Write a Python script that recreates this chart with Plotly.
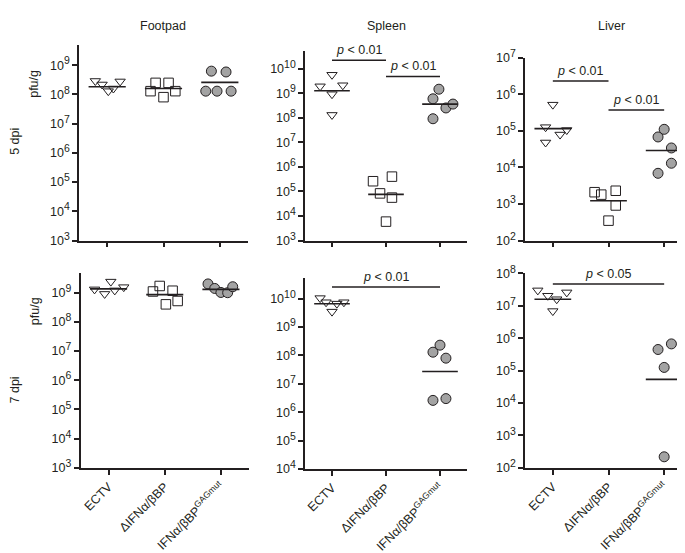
import numpy as np
import plotly.graph_objects as go

# ---------------- data (pfu/g) ----------------
categories = ["ECTV", "ΔIFNα/βBP", "IFNα/βBP<sup>GAGmut</sup>"]
rows = ["5 dpi", "7 dpi"]
organs = ["Footpad", "Spleen", "Liver"]

# 5 dpi
footpad5_ectv = [2.9e8, 2.2e8, 1.3e8, 1.6e8, 2.8e8]
footpad5_dbp = [1.3e8, 2.5e8, 8.1e7, 2.5e8, 1.3e8]
footpad5_gag = [1.3e8, 6.3e8, 1.3e8, 5.9e8, 1.3e8]
footpad5_med = [1.85e8, 1.6e8, 2.6e8]

spleen5_ectv = [1.9e9, 5.6e9, 9.1e8, 1.3e8, 2.1e9]
spleen5_dbp = [2.6e5, 8.3e4, 5.9e3, 4.0e5, 5.6e4]
spleen5_gag = [5.9e8, 9.1e7, 1.45e9, 2.5e8, 3.6e8]
spleen5_med = [1.25e9, 7.6e4, 3.6e8]

liver5_ectv = [1.26e5, 4.8e4, 5.2e5, 7.9e4, 1.05e5]
liver5_dbp = [2.1e3, 1.8e3, 3.5e2, 2.3e3, 9.1e2]
liver5_gag = [6.8e4, 6.9e3, 1.1e5, 3.4e4, 1.3e4]
liver5_med = [1.15e5, 1.23e3, 2.9e4]

# 7 dpi
footpad7_ectv = [1.3e9, 9.1e8, 2.4e9, 1.2e9, 1.55e9]
footpad7_dbp = [1.1e9, 1.7e9, 4.0e8, 1.17e9, 5.2e8]
footpad7_gag = [2.0e9, 1.4e9, 1.02e9, 1.0e9, 1.6e9]
footpad7_med = [1.35e9, 8.6e8, 1.3e9]

spleen7_ectv = [1.05e10, 7.5e9, 3.5e9, 6.7e9, 7.5e9]
spleen7_dbp = []
spleen7_gag = [1.3e8, 2.6e6, 2.3e8, 8.0e7, 3.0e6]
spleen7_med = [6.6e9, None, 2.7e7]

liver7_ectv = [3.0e7, 2.05e7, 6.9e6, 1.6e7, 2.6e7]
liver7_dbp = []
liver7_gag = [4.5e5, 1.26e5, 2.2e2, 6.7e5]
liver7_med = [1.6e7, None, 5.4e4]

# significance brackets: (from group, to group, height pfu/g, label)
spleen5_sig = [(0, 1, 2.2e10, "<0.01"), (1, 2, 4.8e9, "<0.01")]
liver5_sig = [(0, 1, 2.3e6, "<0.01"), (1, 2, 3.7e5, "<0.01")]
spleen7_sig = [(0, 2, 2.6e10, "<0.01")]
liver7_sig = [(0, 2, 4.7e7, "<0.05")]

# ---------------- style / layout ----------------
W, H = 685, 553
INK = "#231f20"
GRAY = "#a3a3a3"
FONT = "Liberation Sans, Arial, sans-serif"

# horizontal scatter offsets of the points within each group (category units)
jit = {
    "f5": [[-0.21, -0.09, 0.02, 0.11, 0.23], [-0.23, -0.14, 0.0, 0.09, 0.21], [-0.25, -0.15, -0.05, 0.11, 0.2]],
    "s5": [[-0.22, 0.0, 0.0, 0.0, 0.2], [-0.24, -0.11, 0.0, 0.11, 0.11], [-0.13, -0.13, -0.02, 0.11, 0.24]],
    "l5": [[-0.13, -0.13, 0.0, 0.13, 0.25], [-0.25, -0.13, 0.0, 0.13, 0.13], [-0.11, -0.11, 0.0, 0.13, 0.13]],
    "f7": [[-0.25, -0.07, 0.04, 0.11, 0.27], [-0.21, -0.09, 0.02, 0.14, 0.23], [-0.23, -0.11, 0.0, 0.12, 0.21]],
    "s7": [[-0.22, -0.11, 0.0, 0.09, 0.22], [], [-0.13, -0.13, 0.0, 0.11, 0.11]],
    "l7": [[-0.27, -0.09, 0.0, 0.07, 0.25], [], [-0.11, 0.0, 0.0, 0.13]],
}

# panel pixel boxes: (x0, x1, ytop, ybottom), y log range
panels = [
    dict(key="f5", data=[footpad5_ectv, footpad5_dbp, footpad5_gag], med=footpad5_med, sig=[],
         box=(71, 240, 27, 229), yr=(3, 9.69), row=0),
    dict(key="s5", data=[spleen5_ectv, spleen5_dbp, spleen5_gag], med=spleen5_med, sig=spleen5_sig,
         box=(297, 459, 33, 229), yr=(3, 10.72), row=0),
    dict(key="l5", data=[liver5_ectv, liver5_dbp, liver5_gag], med=liver5_med, sig=liver5_sig,
         box=(517, 684, 40, 229), yr=(2, 7), row=0),
    dict(key="f7", data=[footpad7_ectv, footpad7_dbp, footpad7_gag], med=footpad7_med, sig=[],
         box=(72.5, 241, 263, 464), yr=(3, 9.66), row=1),
    dict(key="s7", data=[spleen7_ectv, spleen7_dbp, spleen7_gag], med=spleen7_med, sig=spleen7_sig,
         box=(297, 459, 268, 465), yr=(4, 10.72), row=1),
    dict(key="l7", data=[liver7_ectv, liver7_dbp, liver7_gag], med=liver7_med, sig=liver7_sig,
         box=(517, 684, 263, 464), yr=(2, 8), row=1),
]

symbols = [
    dict(symbol="triangle-down-open", size=9, color=INK, line=dict(color=INK, width=1)),
    dict(symbol="square-open", size=9.5, color=INK, line=dict(color=INK, width=1)),
    dict(symbol="circle", size=10, color=GRAY, line=dict(color=INK, width=1)),
]
HALF = 0.33

fig = go.Figure()
layout = dict(
    width=W, height=H, margin=dict(l=0, r=0, t=0, b=0),
    paper_bgcolor="white", plot_bgcolor="white", showlegend=False,
    font=dict(family=FONT, size=12, color=INK),
)
annotations = []

for i, p in enumerate(panels):
    n = i + 1
    xa = "x" if n == 1 else f"x{n}"
    ya = "y" if n == 1 else f"y{n}"
    x0, x1, yt, yb = p["box"]
    lo, hi = p["yr"]
    layout[f"xaxis{'' if n == 1 else n}"] = dict(
        domain=[x0 / W, x1 / W], anchor=ya, range=[-0.5, 2.5],
        showline=True, linecolor=INK, linewidth=1.5, showgrid=False, zeroline=False,
        ticks="outside", ticklen=5, tickwidth=1.5, tickcolor=INK,
        tickvals=[0, 1, 2], ticktext=categories, showticklabels=(p["row"] == 1),
        tickangle=-45, tickfont=dict(size=12.5, color=INK, family=FONT), fixedrange=True,
    )
    kv = list(range(int(np.ceil(lo)), int(np.floor(hi)) + 1))
    layout[f"yaxis{'' if n == 1 else n}"] = dict(
        domain=[1 - yb / H, 1 - yt / H], anchor=xa, type="log", range=[lo, hi],
        showline=True, linecolor=INK, linewidth=1.5, showgrid=False, zeroline=False,
        ticks="outside", ticklen=5, tickwidth=1.5, tickcolor=INK,
        tickvals=[10.0 ** k for k in kv],
        ticktext=[f"10<sup><span style='font-size:10.5px'>{k}</span></sup>" for k in kv],
        tickfont=dict(size=12.5, color=INK, family=FONT), fixedrange=True,
    )
    # points
    for g, vals in enumerate(p["data"]):
        if not vals:
            continue
        xs = [g + o for o in jit[p["key"]][g][:len(vals)]]
        fig.add_trace(go.Scatter(x=xs, y=vals, mode="markers", xaxis=xa, yaxis=ya,
                                 marker=symbols[g], cliponaxis=False, hoverinfo="y"))
    # median lines
    for g, m in enumerate(p["med"]):
        if m is None:
            continue
        fig.add_trace(go.Scatter(x=[g - HALF, g + HALF], y=[m, m], mode="lines", xaxis=xa, yaxis=ya,
                                 line=dict(color=INK, width=1.6), hoverinfo="skip", cliponaxis=False))
    # significance brackets
    for (a, b, h, lab) in p["sig"]:
        fig.add_trace(go.Scatter(x=[a, b], y=[h, h], mode="lines", xaxis=xa, yaxis=ya,
                                 line=dict(color=INK, width=1.6), hoverinfo="skip", cliponaxis=False))
        annotations.append(dict(x=(a + b) / 2, y=np.log10(h), xref=xa, yref=ya,
                                text=f"<i>p</i> {lab[0]} {lab[1:]}", showarrow=False,
                                xanchor="center", yanchor="bottom", yshift=1,
                                font=dict(size=12.5, color=INK, family=FONT)))

# column titles
for name, cx in zip(organs, [155, 378, 603]):
    annotations.append(dict(x=cx / W, y=1 - 7 / H, xref="paper", yref="paper", text=name,
                            showarrow=False, xanchor="center", yanchor="middle",
                            font=dict(size=12.5, color=INK, family=FONT)))
# row labels and y titles
for lab, cy, py, px in zip(rows, [127, 384], [67, 302], [26, 27]):
    annotations.append(dict(x=7 / W, y=1 - cy / H, xref="paper", yref="paper", text=lab,
                            textangle=-90, showarrow=False, xanchor="center", yanchor="middle",
                            font=dict(size=12.5, color=INK, family=FONT)))
    annotations.append(dict(x=px / W, y=1 - py / H, xref="paper", yref="paper", text="pfu/g",
                            textangle=-90, showarrow=False, xanchor="center", yanchor="middle",
                            font=dict(size=12.5, color=INK, family=FONT)))

layout["annotations"] = annotations
fig.update_layout(**layout)
fig.write_html("out.html")
